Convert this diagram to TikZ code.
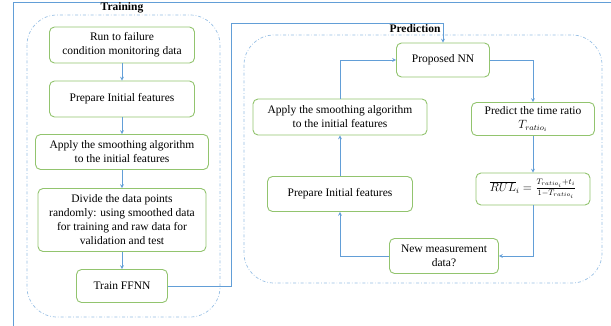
\documentclass[tikz,border=0pt]{standalone}
\usepackage{fontspec}
\setmainfont{Liberation Serif}
\usetikzlibrary{shapes,arrows,positioning}
\definecolor{boxgreen}{RGB}{146,196,110}
\definecolor{linkblue}{RGB}{98,158,215}
\definecolor{frameblue}{RGB}{150,190,228}

\begin{document}
\begin{tikzpicture}[x=1pt,y=1pt,node distance=54pt]

        % 定义样式
        \tikzstyle{process} = [rectangle, rounded corners=5pt, minimum width=145pt, minimum height=36pt, text centered, align=center, draw=boxgreen, line width=0.9pt, fill=white, inner sep=2pt, font=\fontsize{11.5}{14}\selectfont]
        \tikzstyle{arrow} = [draw=linkblue, line width=0.7pt, ->, >=stealth]
        \tikzstyle{panel} = [draw=frameblue, line width=0.7pt, dash dot, rounded corners=30pt]
        \tikzstyle{title} = [font=\fontsize{11.5}{14}\selectfont\bfseries, inner sep=0pt]

        \useasboundingbox (0,0) rectangle (611,-326);

        % 外框与分区
        \draw [draw=linkblue, line width=0.7pt] (611,-2) -- (13,-2) -- (13,-326);
        \draw [panel] (27,-15) rectangle (220,-317);
        \draw [panel] (244,-35) rectangle (602,-283);
        \node (train title) [title] at (122,-8) {Training};
        \node (pred title) [title] at (415,-29) {Prediction};

        % 训练部分节点
        \node (run) [process] at (122,-45) {Run to failure\\condition monitoring data};
        \node (prep) [process, below of=run, node distance=54pt] {Prepare Initial features};
        \node (smooth) [process, below of=prep, node distance=53pt, minimum width=173pt, minimum height=35pt] {Apply the smoothing algorithm\\to the initial features};
        \node (divide) [process, below of=smooth, node distance=68pt, minimum width=168pt, minimum height=63pt] {Divide the data points\\randomly: using smoothed data\\for training and raw data for\\validation and test};
        \node (ffnn) [process, below of=divide, node distance=66pt, minimum width=91pt, minimum height=33pt] {Train FFNN};

        % 预测部分节点
        \node (nn) [process, minimum width=93pt, minimum height=34pt] at (443,-60) {Proposed NN};
        \node (ratio) [process, minimum width=123pt, minimum height=33pt] at (533,-119) {Predict the time ratio\\$T_{ratio_i}$};
        \node (rul) [process, below of=ratio, node distance=70pt, minimum width=114pt, minimum height=32pt] {$\overline{RUL}_i=\frac{T_{ratio_i}+t_i}{1-T_{ratio_i}}$};
        \node (newdata) [process, minimum width=109pt, minimum height=35pt] at (444,-256) {New measurement\\data?};
        \node (psmooth) [process, minimum width=174pt] at (340,-117) {Apply the smoothing algorithm\\to the initial features};
        \node (pprep) [process, below of=psmooth, node distance=77pt, minimum height=35pt] {Prepare Initial features};

        % 连接节点
        \draw [arrow] (run) -- (prep);
        \draw [arrow] (prep) -- (smooth);
        \draw [arrow] (smooth) -- (divide);
        \draw [arrow] (divide) -- (ffnn);
        \draw [arrow] (ffnn.east) -| (231,-23) -| (nn.north);
        \draw [arrow] (nn.east) -| (ratio.north);
        \draw [arrow] (ratio) -- (rul);
        \draw [arrow] (rul.south) |- (newdata.east);
        \draw [arrow] (newdata.west) -| (pprep.south);
        \draw [arrow] (pprep) -- (psmooth);
        \draw [arrow] (psmooth.north) |- (nn.west);

    \end{tikzpicture}
\end{document}
